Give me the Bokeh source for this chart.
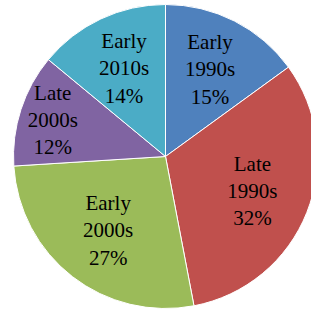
import math
from bokeh.plotting import figure
from bokeh.models import Range1d, ColumnDataSource
from bokeh.core.properties import value
from bokeh.embed import file_html
from bokeh.resources import INLINE

categories = ["Early\n1990s", "Late\n1990s", "Early\n2000s", "Late\n2000s", "Early\n2010s"]
percents = [15, 32, 27, 12, 14]
colors = ["#4F81BD", "#C0504D", "#9BBB59", "#8064A2", "#4BACC6"]
label_r = [0.645, 0.615, 0.615, 0.78, 0.64]  # label distance as fraction of radius

W, H = 311, 310
cx, cy = 165, H - 156
R = 152

total = sum(percents)
starts, ends, lx, ly, texts = [], [], [], [], []
acc = 0.0
for cat, pct, lr in zip(categories, percents, label_r):
    a0 = math.pi / 2 - 2 * math.pi * acc / total
    a1 = math.pi / 2 - 2 * math.pi * (acc + pct) / total
    starts.append(a0)
    ends.append(a1)
    mid = (a0 + a1) / 2
    lx.append(cx + lr * R * math.cos(mid))
    ly.append(cy + lr * R * math.sin(mid))
    texts.append(f"{cat}\n{pct}%")
    acc += pct

src = ColumnDataSource(dict(start=starts, end=ends, color=colors, lx=lx, ly=ly, text=texts))

p = figure(width=W, height=H, output_backend="svg", toolbar_location=None,
           x_range=Range1d(0, W), y_range=Range1d(0, H), min_border=0)
p.axis.visible = False
p.grid.visible = False
p.outline_line_color = None
p.background_fill_color = "white"

p.wedge(x=cx, y=cy, radius=R, start_angle="start", end_angle="end", direction="clock",
        fill_color="color", line_color="white", line_width=1, source=src)
p.text(x="lx", y="ly", text="text", source=src, text_align="center", text_baseline="middle",
       text_font=value("Liberation Serif"), text_font_size="21px", text_line_height=1.14,
       text_color="black")

open("out.html", "w").write(file_html(p, INLINE))
